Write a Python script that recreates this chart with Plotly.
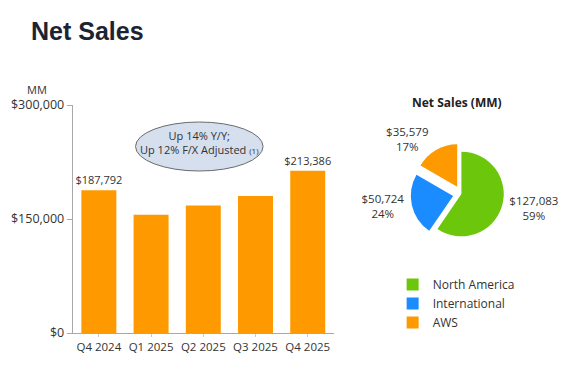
import plotly.graph_objects as go

# ---- data ----
quarters = ["Q4 2024", "Q1 2025", "Q2 2025", "Q3 2025", "Q4 2025"]
net_sales = [187792, 155667, 167702, 180169, 213386]
bar_labels = ["$187,792", "", "", "", "$213,386"]
y_ticks = [0, 150000, 300000]
y_tick_labels = ["$0", "$150,000", "$300,000"]

segments = ["North America", "International", "AWS"]
segment_sales = [127083, 50724, 35579]
segment_pct = ["59%", "24%", "17%"]

# ---- style ----
W, H = 580, 370
ORANGE = "#FF9900"
GREEN = "#6CC70C"
BLUE = "#1A8CFF"
TXT = "#333333"
FONT = "Open Sans"


def px(x):
    return x / W


def py(y):
    return 1 - y / H


fig = go.Figure()

fig.add_trace(go.Bar(
    x=quarters, y=net_sales, text=bar_labels,
    textposition="outside", cliponaxis=False, constraintext="none",
    textfont=dict(size=11, color=TXT, family=FONT),
    marker=dict(color=ORANGE, line=dict(width=0)),
    showlegend=False, hoverinfo="skip",
))

pie_cx, pie_cy, pie_half = 463, 194, 51
fig.add_trace(go.Pie(
    labels=segments, values=segment_sales, text=segment_pct,
    texttemplate="$%{value:,}<br>%{text}",
    textposition="outside",
    textfont=dict(size=11.5, color=TXT, family=FONT),
    marker=dict(colors=[GREEN, BLUE, ORANGE], line=dict(width=0)),
    pull=[0, 0.2, 0.2],
    sort=False, direction="clockwise", rotation=0,
    domain=dict(x=[px(pie_cx - pie_half), px(pie_cx + pie_half)],
                y=[py(pie_cy + pie_half), py(pie_cy - pie_half)]),
    hoverinfo="skip", showlegend=True,
))

fig.update_layout(
    width=W, height=H,
    margin=dict(l=0, r=0, t=0, b=0),
    paper_bgcolor="white", plot_bgcolor="white",
    font=dict(family=FONT, color=TXT),
    bargap=0.33,
    xaxis=dict(
        domain=[px(73), px(335)], showline=True, linecolor="#a8a8a8", linewidth=1,
        ticks="outside", ticklen=3, tickcolor="#c8c8c8", showgrid=False,
        tickfont=dict(size=11.5, color=TXT, family=FONT), automargin=False,
        fixedrange=True,
    ),
    yaxis=dict(
        domain=[py(333), py(105)], range=[0, 300000],
        tickvals=y_ticks, ticktext=y_tick_labels,
        showline=True, linecolor="#a8a8a8", linewidth=1,
        ticks="outside", ticklen=5, tickcolor="#a8a8a8",
        showgrid=False, zeroline=False, automargin=False,
        tickfont=dict(size=12.5, color=TXT, family=FONT),
        fixedrange=True,
    ),
    legend=dict(
        x=px(394), y=py(270), xanchor="left", yanchor="top",
        font=dict(size=12, color=TXT, family=FONT),
        bgcolor="rgba(0,0,0,0)", itemclick=False, itemdoubleclick=False,
    ),
    shapes=[dict(
        type="circle", xref="paper", yref="paper",
        x0=px(136), x1=px(264), y0=py(171), y1=py(122),
        fillcolor="#D5DFEE", line=dict(color="#6b6b6b", width=1),
    )],
    annotations=[
        dict(text="<b>Net Sales</b>", x=px(29), y=py(31), xref="paper", yref="paper",
             xanchor="left", yanchor="middle", showarrow=False,
             font=dict(family="Liberation Sans", size=25, color="#1C2433")),
        dict(text="MM", x=px(37), y=py(89), xref="paper", yref="paper",
             xanchor="center", yanchor="middle", showarrow=False,
             font=dict(size=11, color=TXT, family=FONT)),
        dict(text="Up 14% Y/Y;<br>Up 12% F/X Adjusted <span style='font-size:8px'>(1)</span>",
             x=px(200), y=py(142), xref="paper", yref="paper",
             xanchor="center", yanchor="middle", showarrow=False,
             font=dict(size=11, color=TXT, family=FONT)),
        dict(text="<b>Net Sales (MM)</b>", x=px(459), y=py(102), xref="paper", yref="paper",
             xanchor="center", yanchor="middle", showarrow=False,
             font=dict(size=12, color="#222222", family=FONT)),
    ],
)

fig.write_html("out.html", config={"displayModeBar": False},
               post_script="document.body.style.margin='0';")
